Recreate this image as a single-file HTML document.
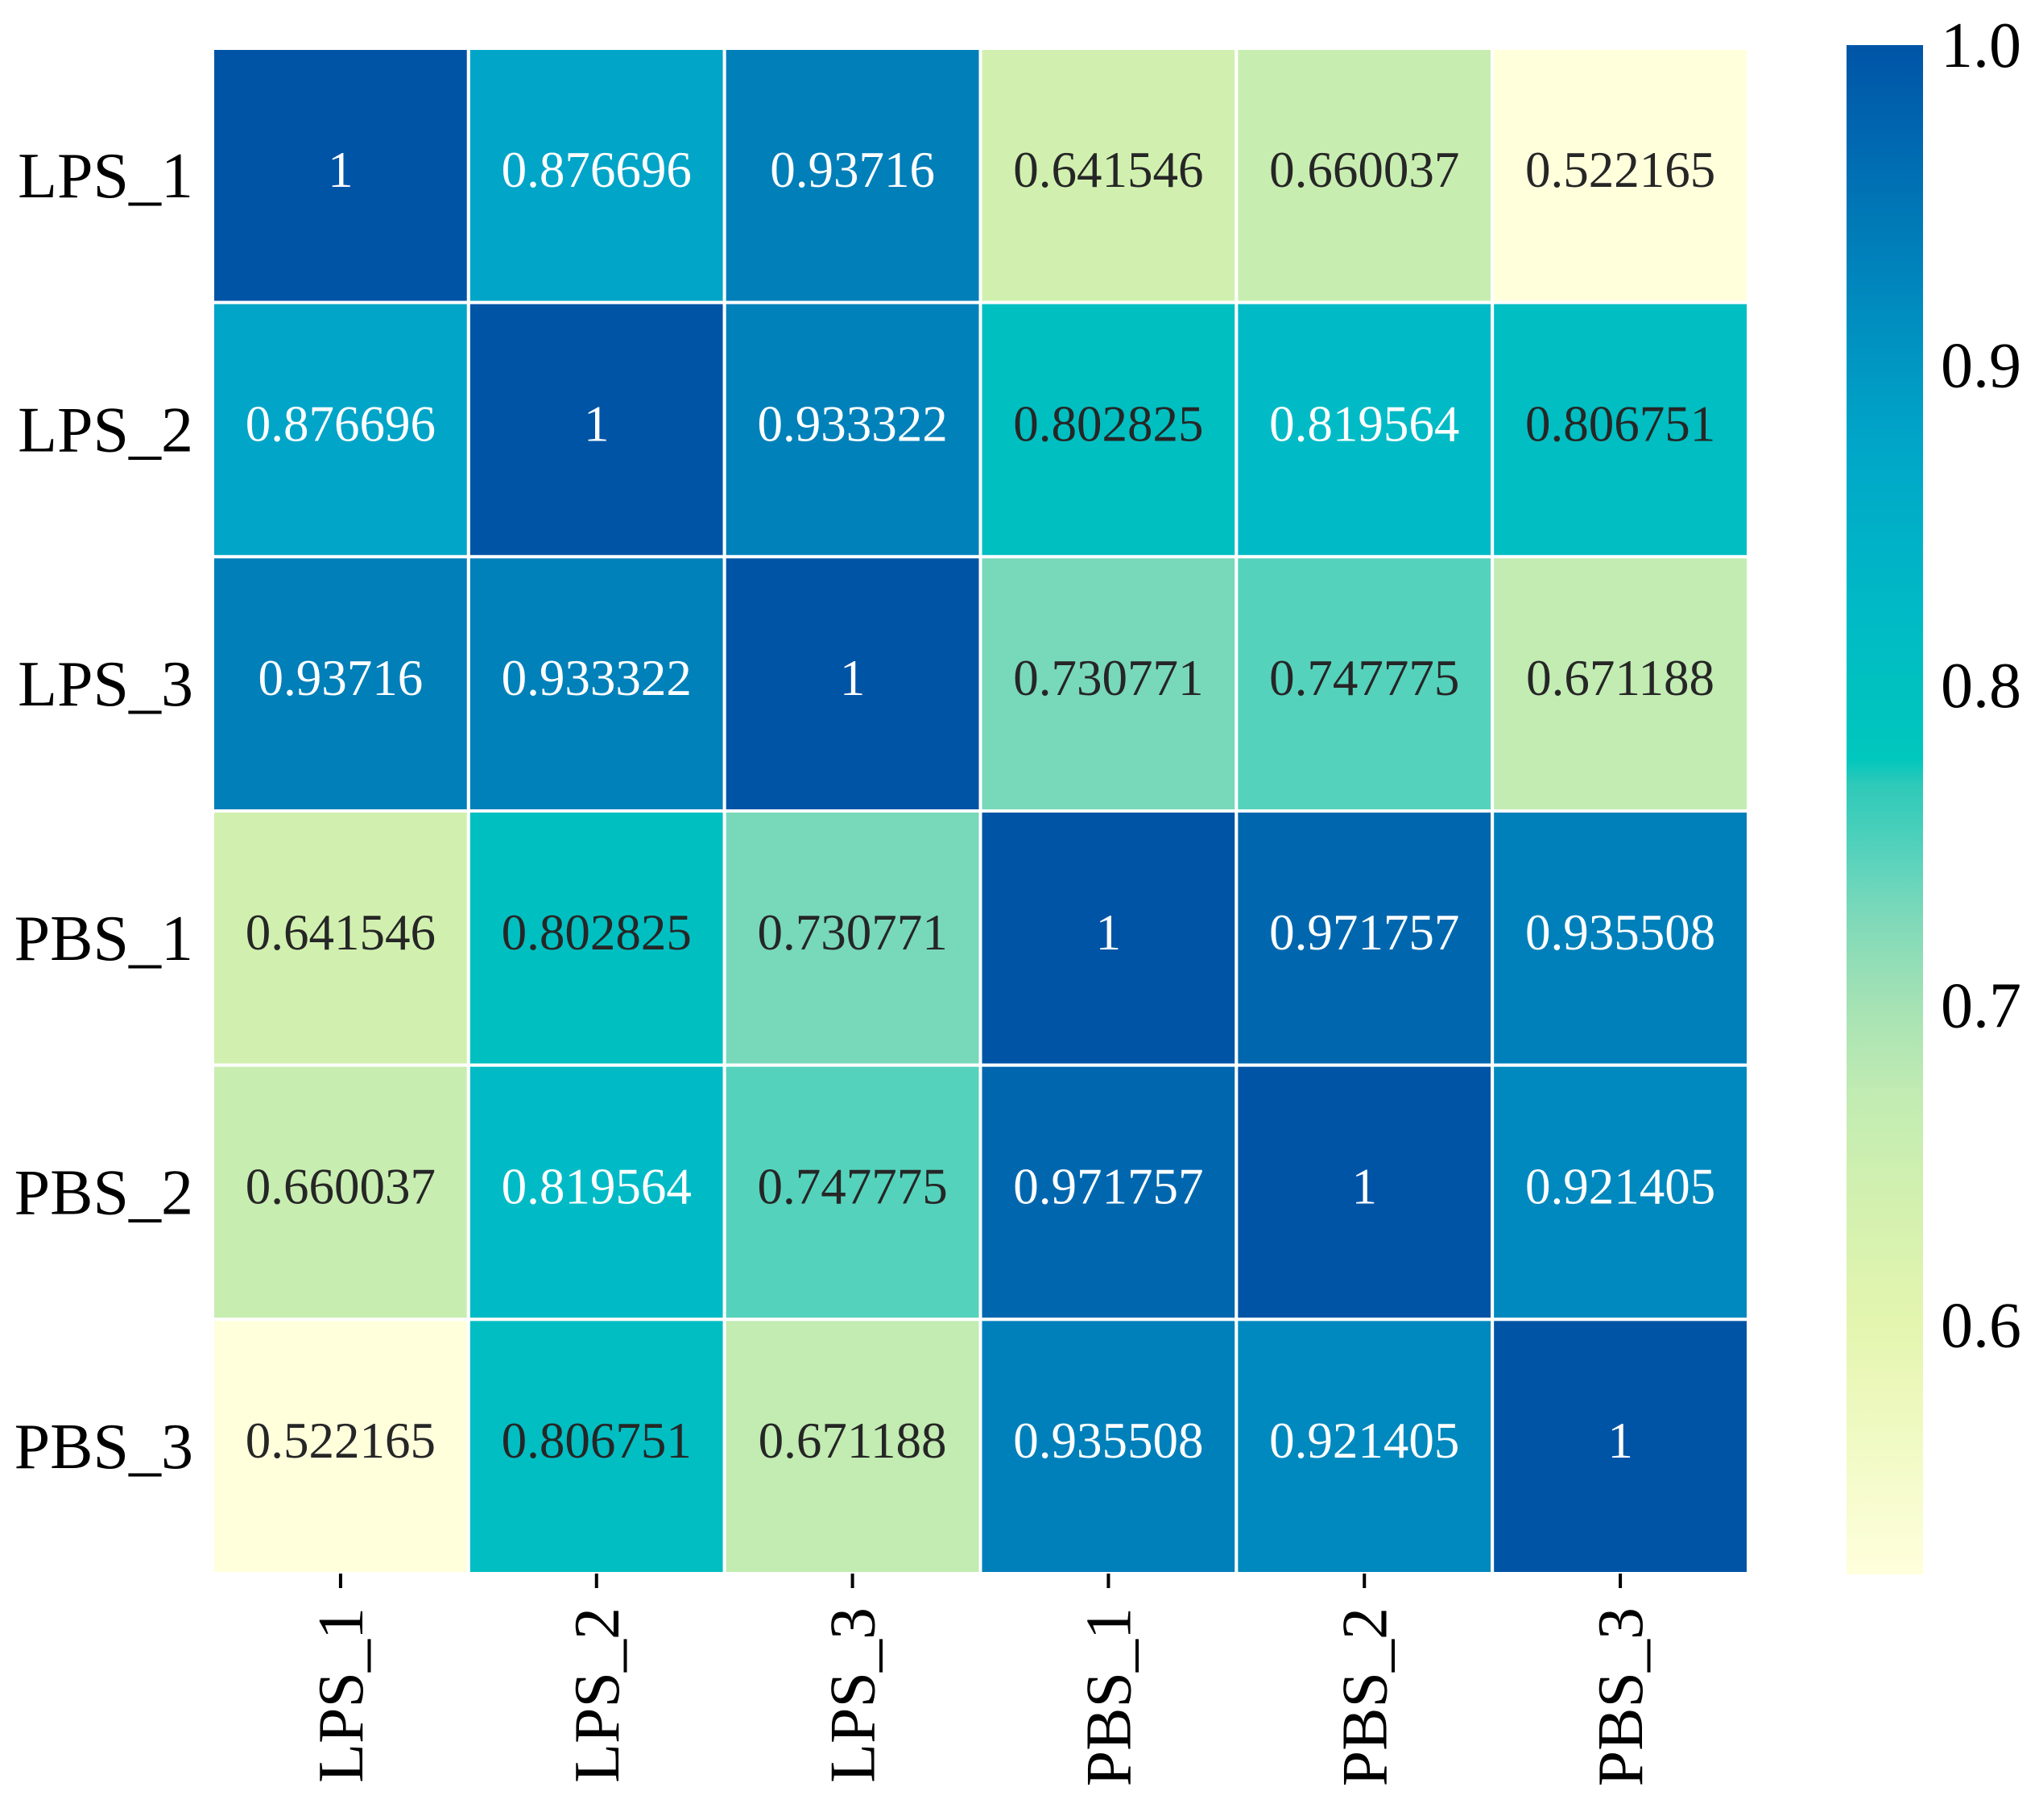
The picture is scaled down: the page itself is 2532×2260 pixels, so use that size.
<!DOCTYPE html>
<html><head><meta charset="utf-8"><style>
html,body{margin:0;padding:0;background:#fff;}
svg{display:block;font-family:"Liberation Serif",serif;}
</style></head><body>
<svg id="chart" width="2532" height="2260" xmlns="http://www.w3.org/2000/svg">
<defs><linearGradient id="cbgrad" x1="0" y1="1" x2="0" y2="0"></linearGradient></defs>
<g id="cells"></g>
<g id="xlabels"></g>
<g id="ylabels"></g>
<g id="cbar"></g>
</svg>
<script>
const rowLabels = ["LPS_1","LPS_2","LPS_3","PBS_1","PBS_2","PBS_3"];
const colLabels = ["LPS_1","LPS_2","LPS_3","PBS_1","PBS_2","PBS_3"];
const row0 = [1, 0.876696, 0.93716, 0.641546, 0.660037, 0.522165];
const row1 = [0.876696, 1, 0.933322, 0.802825, 0.819564, 0.806751];
const row2 = [0.93716, 0.933322, 1, 0.730771, 0.747775, 0.671188];
const row3 = [0.641546, 0.802825, 0.730771, 1, 0.971757, 0.935508];
const row4 = [0.660037, 0.819564, 0.747775, 0.971757, 1, 0.921405];
const row5 = [0.522165, 0.806751, 0.671188, 0.935508, 0.921405, 1];
const cellLabels = [
 ["1","0.876696","0.93716","0.641546","0.660037","0.522165"],
 ["0.876696","1","0.933322","0.802825","0.819564","0.806751"],
 ["0.93716","0.933322","1","0.730771","0.747775","0.671188"],
 ["0.641546","0.802825","0.730771","1","0.971757","0.935508"],
 ["0.660037","0.819564","0.747775","0.971757","1","0.921405"],
 ["0.522165","0.806751","0.671188","0.935508","0.921405","1"]];
const matrix = [row0,row1,row2,row3,row4,row5];
const vmin = 0.522165, vmax = 1.0;
const cbTicks = [0.6,0.7,0.8,0.9,1.0];
const cbTickLabels = ["0.6","0.7","0.8","0.9","1.0"];

const stops = [
 [0.522,[255,255,220]],[0.6,[228,245,175]],[0.64,[210,240,175]],[0.67,[195,236,178]],
 [0.70,[165,226,180]],[0.73,[122,216,186]],[0.748,[85,210,188]],[0.772,[40,200,185]],
 [0.775,[0,200,190]],[0.80,[0,192,192]],[0.82,[0,187,198]],[0.877,[0,165,200]],
 [0.92,[0,138,190]],[0.935,[0,128,186]],[0.97,[0,104,176]],[1.0,[0,84,166]]];
function cmap(v){
  if(v<=stops[0][0]) return stops[0][1];
  for(let i=1;i<stops.length;i++){
    if(v<=stops[i][0]){const a=stops[i-1],b=stops[i];const t=(v-a[0])/(b[0]-a[0]);
      return a[1].map((c,k)=>Math.round(c+(b[1][k]-c)*t));}
  }
  return stops[stops.length-1][1];
}
function rgb(c){return `rgb(${c[0]},${c[1]},${c[2]})`;}
function lum(c){const f=x=>{x/=255;return x<=0.03928?x/12.92:Math.pow((x+0.055)/1.055,2.4);};return 0.2126*f(c[0])+0.7152*f(c[1])+0.0722*f(c[2]);}

const NS="http://www.w3.org/2000/svg";
const X0=264,X1=2171,Y0=60,Y1=1954;
const cw=(X1-X0)/colLabels.length, ch=(Y1-Y0)/rowLabels.length;
const xPos=j=>X0+j*cw, yPos=i=>Y0+i*ch;
function mk(tag,attrs,parent){const e=document.createElementNS(NS,tag);for(const k in attrs)e.setAttribute(k,attrs[k]);parent.appendChild(e);return e;}

const gCells=document.getElementById('cells');
matrix.forEach((row,i)=>row.forEach((v,j)=>{
  const c=cmap(v);
  const r=mk('rect',{x:xPos(j),y:yPos(i),width:cw,height:ch,fill:rgb(c),stroke:'#fff','stroke-width':4},gCells);
  
  
  const t=mk('text',{x:xPos(j)+cw/2,y:yPos(i)+ch/2+14,'text-anchor':'middle','font-size':63,fill:lum(c)>0.40?'#262626':'#ffffff'},gCells);
  t.textContent=cellLabels[i][j];
  
  
}));

const gx=document.getElementById('xlabels');
colLabels.forEach((lab,j)=>{
  const cx=xPos(j)+cw/2;
  const tk=mk('line',{x1:cx,y1:Y1,x2:cx,y2:Y1+18,stroke:'#000','stroke-width':4},gx);
  
  
  const t=mk('text',{x:0,y:0,'text-anchor':'end','font-size':80,fill:'#000',transform:`translate(${cx+27},${Y1+42}) rotate(-90)`},gx);
  t.textContent=lab;
  
  
});
const gy=document.getElementById('ylabels');
rowLabels.forEach((lab,i)=>{
  const t=mk('text',{x:240,y:yPos(i)+ch/2+27,'text-anchor':'end','font-size':80,fill:'#000'},gy);
  t.textContent=lab;
  
  
});

const grad=document.getElementById('cbgrad');
for(let k=0;k<=60;k++){const v=vmin+(vmax-vmin)*k/60;mk('stop',{offset:(k/60).toFixed(4),'stop-color':rgb(cmap(v))},grad);}
const gc=document.getElementById('cbar');
const CX0=2293,CX1=2388,CY0=56,CY1=1955;
const cy=v=>CY1-(v-vmin)/(vmax-vmin)*(CY1-CY0);
const cr=mk('rect',{x:CX0,y:CY0,width:CX1-CX0,height:CY1-CY0,fill:'url(#cbgrad)'},gc);


cbTicks.forEach((v,k)=>{
  const t=mk('text',{x:2410,y:cy(v)+27,'font-size':80,fill:'#000'},gc);
  t.textContent=cbTickLabels[k];
  
  
});
</script>
</body></html>
